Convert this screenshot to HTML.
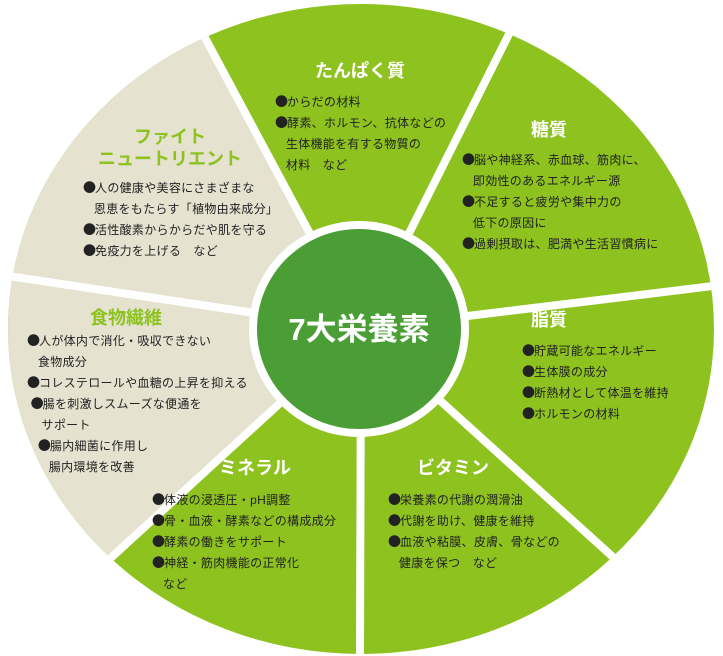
<!DOCTYPE html>
<html style="overflow:hidden;width:723px;height:656px"><head><meta charset="utf-8"><style>
html,body{margin:0;padding:0}
body{width:723px;height:656px;background:#fff;position:relative;overflow:hidden;font-family:"Liberation Sans","Noto Sans CJK JP",sans-serif;}
svg{position:absolute;left:0;top:0}
.t{position:absolute;white-space:nowrap;font-weight:bold;}
.h{font-size:18px;color:#fff;transform:translateX(-50%);line-height:20px}
.g{color:#8dc21f}
.b{position:absolute;font-size:12px;line-height:21px;color:#222;white-space:nowrap;letter-spacing:0.3px}
.b div{height:21px;overflow:visible}
i{font-style:normal;font-family:"Noto Sans CJK JP",sans-serif;font-size:13px;letter-spacing:-1px;line-height:10px;vertical-align:baseline}
</style></head><body>
<svg width="723" height="656" viewBox="0 0 723 656">
<defs><clipPath id="c"><ellipse cx="361" cy="329" rx="353" ry="325"/></clipPath></defs>
<g clip-path="url(#c)">
<rect width="723" height="656" fill="#8dc21f"/>
<polygon points="361,329 -181,825 -331,225 59,-235" fill="#e6e2d0"/>
<g stroke="#fff" stroke-width="8">
<line x1="361" y1="329" x2="59" y2="-235"/>
<line x1="361" y1="329" x2="649" y2="-245"/>
<line x1="361" y1="329" x2="1049" y2="245"/>
<line x1="361" y1="329" x2="909" y2="825"/>
<line x1="361" y1="329" x2="359" y2="975"/>
<line x1="361" y1="329" x2="-181" y2="825"/>
<line x1="361" y1="329" x2="-331" y2="225"/>
</g>
</g>
<ellipse cx="359" cy="329" rx="110" ry="108" fill="#fff"/>
<ellipse cx="359" cy="329" rx="102" ry="100" fill="#4a9e35"/>
<text x="359" y="340" text-anchor="middle" fill="#fff" font-size="31" font-weight="bold" font-family="Liberation Sans, Noto Sans CJK JP, sans-serif">7大栄養素</text>
</svg>
<div class="t h" style="left:360px;top:61px">たんぱく質</div>
<div class="b" style="left:275px;top:92px"><div><i>●</i>からだの材料</div><div><i>●</i>酵素、ホルモン、抗体などの</div><div>&nbsp;&nbsp;&nbsp;生体機能を有する物質の</div><div>&nbsp;&nbsp;&nbsp;材料　など</div></div>
<div class="t h" style="left:549px;top:120px">糖質</div>
<div class="b" style="left:462px;top:150px"><div><i>●</i>脳や神経系、赤血球、筋肉に、</div><div>&nbsp;&nbsp;&nbsp;即効性のあるエネルギー源</div><div><i>●</i>不足すると疲労や集中力の</div><div>&nbsp;&nbsp;&nbsp;低下の原因に</div><div><i>●</i>過剰摂取は、肥満や生活習慣病に</div></div>
<div class="t h g" style="left:170px;top:126px;text-align:center;line-height:22px">ファイト<br>ニュートリエント</div>
<div class="b" style="left:83px;top:178px"><div><i>●</i>人の健康や美容にさまざまな</div><div>&nbsp;&nbsp;&nbsp;恩恵をもたらす「植物由来成分」</div><div><i>●</i>活性酸素からからだや肌を守る</div><div><i>●</i>免疫力を上げる　など</div></div>
<div class="t h g" style="left:126px;top:308px">食物繊維</div>
<div class="b" style="left:27px;top:331px"><div><i>●</i>人が体内で消化・吸収できない</div><div>&nbsp;&nbsp;&nbsp;食物成分</div><div><i>●</i>コレステロールや血糖の上昇を抑える</div><div>&nbsp;<i>●</i>腸を刺激しスムーズな便通を</div><div>&nbsp;&nbsp;&nbsp;&nbsp;サポート</div><div>&nbsp;&nbsp;&nbsp;<i>●</i>腸内細菌に作用し</div><div>&nbsp;&nbsp;&nbsp;&nbsp;&nbsp;&nbsp;腸内環境を改善</div></div>
<div class="t h" style="left:549px;top:310px">脂質</div>
<div class="b" style="left:522px;top:341px"><div><i>●</i>貯蔵可能なエネルギー</div><div><i>●</i>生体膜の成分</div><div><i>●</i>断熱材として体温を維持</div><div><i>●</i>ホルモンの材料</div></div>
<div class="t h" style="left:255px;top:458px">ミネラル</div>
<div class="b" style="left:152px;top:490px"><div><i>●</i>体液の浸透圧・pH調整</div><div><i>●</i>骨・血液・酵素などの構成成分</div><div><i>●</i>酵素の働きをサポート</div><div><i>●</i>神経・筋肉機能の正常化</div><div>&nbsp;&nbsp;&nbsp;など</div></div>
<div class="t h" style="left:453px;top:458px">ビタミン</div>
<div class="b" style="left:388px;top:490px"><div><i>●</i>栄養素の代謝の潤滑油</div><div><i>●</i>代謝を助け、健康を維持</div><div><i>●</i>血液や粘膜、皮膚、骨などの</div><div>&nbsp;&nbsp;&nbsp;健康を保つ　など</div></div>
</body></html>
